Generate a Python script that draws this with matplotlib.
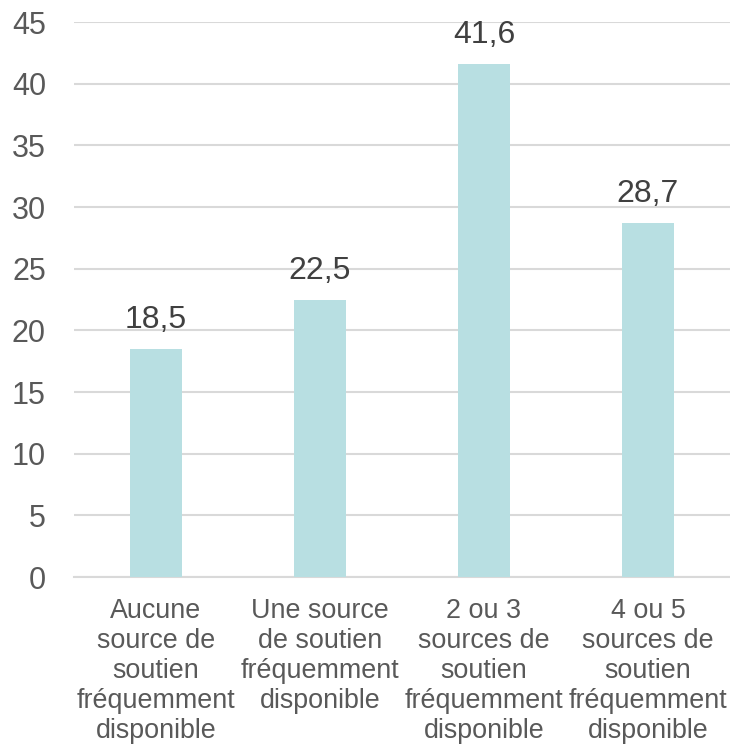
import matplotlib.pyplot as plt

categories = [
    "Aucune\nsource de\nsoutien\nfréquemment\ndisponible",
    "Une source\nde soutien\nfréquemment\ndisponible",
    "2 ou 3\nsources de\nsoutien\nfréquemment\ndisponible",
    "4 ou 5\nsources de\nsoutien\nfréquemment\ndisponible",
]
values = [18.5, 22.5, 41.6, 28.7]
yticks = [0, 5, 10, 15, 20, 25, 30, 35, 40, 45]

plt.rcParams['font.family'] = ['Liberation Sans', 'DejaVu Sans']

fig = plt.figure(figsize=(7.3, 7.46), dpi=100)
ax = fig.add_axes([0.101, 0.2265, 0.899, 0.744])

x = range(len(values))
bars = ax.bar(x, values, width=0.32, color='#B8DFE2', zorder=3)

# value labels above each bar, French decimal comma
for xi, v in zip(x, values):
    ax.annotate(f"{v:.1f}".replace('.', ','), (xi, v), xytext=(0, 10),
                textcoords='offset points', ha='center', va='bottom',
                fontsize=23, color='#404040')

ax.set_xlim(-0.5, len(values) - 0.5)
ax.set_ylim(0, 45)
ax.set_yticks(yticks)
ax.set_yticklabels([str(t) for t in yticks])
ax.set_xticks(list(x))
ax.set_xticklabels(categories, linespacing=1.2)

ax.yaxis.grid(True, color='#D9D9D9', linewidth=1.5, zorder=0)
ax.tick_params(axis='y', length=0, pad=20, labelsize=22, labelcolor='#595959')
ax.tick_params(axis='x', length=0, pad=15, labelsize=19.4, labelcolor='#595959')
for s in ['top', 'right', 'left']:
    ax.spines[s].set_visible(False)
ax.spines['bottom'].set_color('#D9D9D9')
ax.spines['bottom'].set_linewidth(1.5)

fig.savefig('out.png', dpi=100)
